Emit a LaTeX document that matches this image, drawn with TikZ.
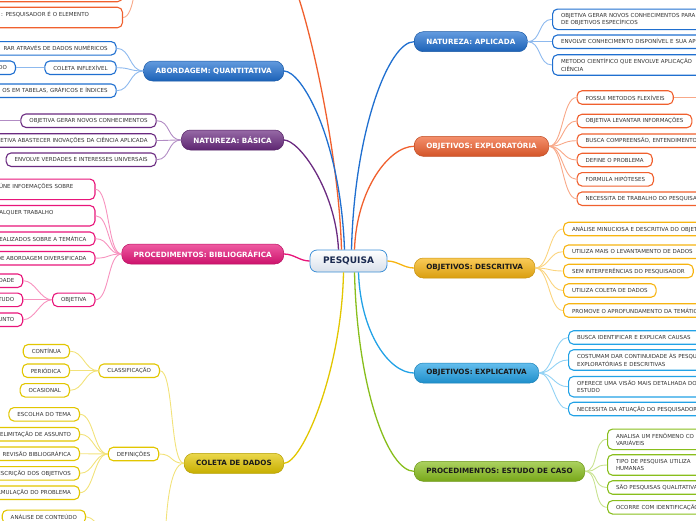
\documentclass[tikz,border=0pt]{standalone}
\usepackage{fontspec}
\setmainfont{DejaVu Sans}

\definecolor{azul}{HTML}{1F6FD0}
\definecolor{azulL}{HTML}{8DB9EE}
\definecolor{roxo}{HTML}{6A2A80}
\definecolor{roxoL}{HTML}{B28CC4}
\definecolor{rosa}{HTML}{E8157A}
\definecolor{rosaL}{HTML}{F792BE}
\definecolor{amarelo}{HTML}{E2C600}
\definecolor{amareloL}{HTML}{F2E27A}
\definecolor{laranja}{HTML}{F0602E}
\definecolor{laranjaL}{HTML}{F8A888}
\definecolor{ouro}{HTML}{F7B411}
\definecolor{ouroL}{HTML}{FBD47E}
\definecolor{ciano}{HTML}{22A2E6}
\definecolor{cianoL}{HTML}{92D2F4}
\definecolor{verde}{HTML}{88BE1C}
\definecolor{verdeL}{HTML}{C8E290}
\definecolor{texto}{HTML}{333333}
\definecolor{escuro}{HTML}{1A1A1A}
\definecolor{pesB}{HTML}{3C8FD6}
\definecolor{pesF}{HTML}{D8E0EA}
\definecolor{pesT}{HTML}{1A2A50}

\tikzset{
  ramo/.style 2 args={rounded corners=9pt, draw=#1!80!black, line width=0.5pt,
    top color=#1!70!white, bottom color=#1!88!black, text=#2,
    font=\bfseries\fontsize{7.2}{8}\selectfont, minimum height=20pt, inner xsep=12pt},
  folha/.style={draw=#1, line width=1.1pt, fill=white, rounded corners=5pt, text=texto,
    font=\fontsize{5.5}{7.3}\selectfont, minimum height=13.5pt, inner xsep=8.5pt, inner ysep=2pt},
  galho/.style={draw=#1, line width=1.3pt},
  fio/.style={draw=#1, line width=0.9pt},
  fits/.style={},
  offr/.style={text width=220pt, align=left},
  offrtwo/.style={offr, minimum height=20.5pt},
  offl/.style={text width=220pt, align=right},
  offltwo/.style={offl, minimum height=20.5pt},
}

\begin{document}
\begin{tikzpicture}[x=1pt, y=-1pt]
\useasboundingbox (0,0) rectangle (696,520);

% centro
\node[draw=pesB, line width=0.8pt, rounded corners=7pt, top color=white, bottom color=pesF,
  text=pesT, font=\bfseries\fontsize{9}{10}\selectfont, minimum height=22pt, inner xsep=13pt]
  (pes) at (348.5,261) {PESQUISA};

% lado direito
\node[ramo={azul}{white}, anchor=west] (apl) at (414,41.7) {NATUREZA: APLICADA};
\node[ramo={laranja}{white}, anchor=west] (exp) at (414,146.3) {OBJETIVOS: EXPLORATÓRIA};
\node[ramo={ouro}{escuro}, anchor=west] (des) at (414,268) {OBJETIVOS: DESCRITIVA};
\node[ramo={ciano}{escuro}, anchor=west] (expl) at (414,373) {OBJETIVOS: EXPLICATIVA};
\node[ramo={verde}{escuro}, anchor=west] (cas) at (414,471.3) {PROCEDIMENTOS: ESTUDO DE CASO};

\draw[galho=azul] ([xshift=3pt]pes.north) .. controls +(3,-120) and +(-25,0) .. (apl.west);
\draw[galho=laranja] ([xshift=6pt]pes.north) .. controls +(2,-60) and +(-25,0) .. (exp.west);
\draw[galho=ouro] (pes.east) .. controls +(10,0) and +(-10,0) .. (des.west);
\draw[galho=ciano] ([xshift=10pt]pes.south) .. controls +(2,60) and +(-25,0) .. (expl.west);
\draw[galho=verde] ([xshift=6pt]pes.south) .. controls +(3,120) and +(-25,0) .. (cas.west);

\foreach \y/\s/\t [count=\i] in {19.3/offrtwo/{OBJETIVA GERAR NOVOS CONHECIMENTOS PARA\\DE OBJETIVOS ESPECÍFICOS},
  41.7/offr/{ENVOLVE CONHECIMENTO DISPONÍVEL E SUA APLICAÇÃO},
  65/offrtwo/{METODO CIENTÍFICO QUE ENVOLVE APLICAÇÃO\\CIÊNCIA}} {
\node[folha=azul, \s, anchor=west] (apl\i) at (552,\y) {\t};
\draw[fio=azulL] (apl.east) .. controls +(14,0) and +(-14,0) .. (apl\i.west);
}

\foreach \y/\s/\t [count=\i] in {97.5/fits/{POSSUI METODOS FLEXÍVEIS},
  121/fits/{OBJETIVA LEVANTAR INFORMAÇÕES},
  140.7/offr/{BUSCA COMPREENSÃO, ENTENDIMENTO},
  160/fits/{DEFINE O PROBLEMA},
  179.3/fits/{FORMULA HIPÓTESES},
  198.7/offr/{NECESSITA DE TRABALHO DO PESQUISADOR}} {
\node[folha=laranja, \s, anchor=west] (exp\i) at (576.5,\y) {\t};
\draw[fio=laranjaL] (exp.east) .. controls +(14,0) and +(-14,0) .. (exp\i.west);
}
\coordinate (possui) at (710,97.5);
\draw[fio=laranjaL] (exp1.east) -- (possui);

\foreach \y/\s/\t [count=\i] in {229/offr/{ANÁLISE MINUCIOSA E DESCRITIVA DO OBJETO},
  251.7/offr/{UTILIZA MAIS O LEVANTAMENTO DE DADOS},
  271/fits/{SEM INTERFERÊNCIAS DO PESQUISADOR},
  290.5/fits/{UTILIZA COLETA DE DADOS},
  310.5/offr/{PROMOVE O APROFUNDAMENTO DA TEMÁTICA}} {
\node[folha=ouro, \s, anchor=west] (des\i) at (563,\y) {\t};
\draw[fio=ouroL] (des.east) .. controls +(14,0) and +(-14,0) .. (des\i.west);
}

\foreach \y/\s/\t [count=\i] in {337.5/offr/{BUSCA IDENTIFICAR E EXPLICAR CAUSAS},
  360/offrtwo/{COSTUMAM DAR CONTINUIDADE ÀS PESQUISAS\\EXPLORATÓRIAS E DESCRITIVAS},
  386.7/offrtwo/{OFERECE UMA VISÃO MAIS DETALHADA DO\\ESTUDO},
  409/offr/{NECESSITA DA ATUAÇÃO DO PESQUISADOR}} {
\node[folha=ciano, \s, anchor=west] (expl\i) at (568,\y) {\t};
\draw[fio=cianoL] (expl.east) .. controls +(14,0) and +(-14,0) .. (expl\i.west);
}

\foreach \y/\s/\t [count=\i] in {439.3/offrtwo/{ANALISA UM FENÔMENO CO\\VARIÁVEIS},
  465/offrtwo/{TIPO DE PESQUISA UTILIZA\\HUMANAS},
  487.5/offr/{SÃO PESQUISAS QUALITATIVAS},
  507.3/offr/{OCORRE COM IDENTIFICAÇÃO}} {
\node[folha=verde, \s, anchor=west] (cas\i) at (607,\y) {\t};
\draw[fio=verdeL] (cas.east) .. controls +(14,0) and +(-14,0) .. (cas\i.west);
}

% lado esquerdo
\node[ramo={azul}{white}, anchor=east] (quant) at (284,71) {ABORDAGEM: QUANTITATIVA};
\node[ramo={roxo}{white}, anchor=east] (bas) at (284,140) {NATUREZA: BÁSICA};
\node[ramo={rosa}{white}, anchor=east] (bib) at (284,254) {PROCEDIMENTOS: BIBLIOGRÁFICA};
\node[ramo={amarelo}{escuro}, anchor=east] (col) at (284,463.3) {COLETA DE DADOS};
\coordinate (qual) at (286,-30);
\coordinate (qualw) at (140,-28);

\draw[galho=laranja] (qual) .. controls +(14,10) and +(-3,-110) .. ([xshift=-7pt]pes.north);
\draw[galho=azul] (quant.east) .. controls +(18,0) and +(-4,-110) .. ([xshift=-4pt]pes.north);
\draw[galho=roxo] (bas.east) .. controls +(15,0) and +(-3,-60) .. ([xshift=-10pt]pes.north);
\draw[galho=rosa] (bib.east) .. controls +(10,0) and +(-10,0) .. (pes.west);
\draw[galho=amarelo] (col.east) .. controls +(18,0) and +(-2,100) .. ([xshift=-5pt]pes.south);

\node[folha=laranja, offl, anchor=east] (qual1) at (123,-5) {};
\node[folha=laranja, offltwo, anchor=east] (qual2) at (123,17.5) {: PESQUISADOR É O ELEMENTO\rule{25pt}{0pt}\\~};
\draw[fio=laranjaL] (qualw) .. controls +(-5,0) and +(12,0) .. (qual1.east);
\draw[fio=laranjaL] (qualw) .. controls +(-5,0) and +(12,0) .. (qual2.east);

\foreach \y/\s/\t [count=\i] in {48.3/offl/{RAR ATRAVÉS DE DADOS NUMÉRICOS},
  67.7/fits/{COLETA INFLEXÍVEL},
  90.7/offl/{OS EM TABELAS, GRÁFICOS E ÍNDICES}} {
\node[folha=azul, \s, anchor=east] (quant\i) at (116.7,\y) {\t};
\draw[fio=azulL] (quant.west) .. controls +(-14,0) and +(14,0) .. (quant\i.east);
}
\node[folha=azul, offl, anchor=east] (quantdo) at (16,67.7) {DO};
\draw[fio=azulL] (quant2.west) -- (quantdo.east);

\foreach \y/\s/\t [count=\i] in {120.7/fits/{OBJETIVA GERAR NOVOS CONHECIMENTOS},
  140.5/offl/{OBJETIVA ABASTECER INOVAÇÕES DA CIÊNCIA APLICADA},
  159.7/fits/{ENVOLVE VERDADES E INTERESSES UNIVERSAIS}} {
\node[folha=roxo, \s, anchor=east] (bas\i) at (156.7,\y) {\t};
\draw[fio=roxoL] (bas.west) .. controls +(-14,0) and +(14,0) .. (bas\i.east);
}
\coordinate (basx) at (-10,120.7);
\draw[fio=roxoL] (bas1.west) -- (basx);

\foreach \y/\s/\t [count=\i] in {189.3/offltwo/{REÚNE INFOEMAÇÕES SOBRE\rule{13pt}{0pt}\\~},
  215.7/offltwo/{QUALQUER TRABALHO\rule{33pt}{0pt}\\~},
  238.7/offl/{REALIZADOS SOBRE A TEMÁTICA},
  258.2/offl/{DE ABORDAGEM DIVERSIFICADA},
  299.8/fits/{OBJETIVA}} {
\node[folha=rosa, \s, anchor=east] (bib\i) at (95.5,\y) {\t};
\draw[fio=rosaL] (bib.west) .. controls +(-14,0) and +(14,0) .. (bib\i.east);
}
\foreach \y/\t [count=\i] in {280.7/DADE, 299.8/TUDO, 319.7/UNTO} {
\node[folha=rosa, offl, anchor=east] (obj\i) at (23.3,\y) {\t};
\draw[fio=rosaL] (bib5.west) .. controls +(-12,0) and +(12,0) .. (obj\i.east);
}

\node[folha=amarelo, anchor=east] (cla) at (160,370.7) {CLASSIFICAÇÃO};
\node[folha=amarelo, anchor=east] (def) at (159.3,454) {DEFINIÇÕES};
\coordinate (colx) at (165,560);
\draw[fio=amareloL] (col.west) .. controls +(-14,0) and +(14,0) .. (cla.east);
\draw[fio=amareloL] (col.west) .. controls +(-14,0) and +(14,0) .. (def.east);
\draw[fio=amareloL] (col.west) .. controls +(-14,0) and +(0,-50) .. (colx);

\foreach \y/\t [count=\i] in {351.2/CONTÍNUA, 370.7/PERIÓDICA, 390.3/OCASIONAL} {
\node[folha=amarelo, anchor=east] (cla\i) at (70,\y) {\t};
\draw[fio=amareloL] (cla.west) .. controls +(-14,0) and +(14,0) .. (cla\i.east);
}
\foreach \y/\s/\t [count=\i] in {414.3/fits/{ESCOLHA DO TEMA},
  434.2/offl/{DELIMITAÇÃO DE ASSUNTO},
  453.7/offl/{REVISÃO BIBLIOGRÁFICA},
  473.3/offl/{DESCRIÇÃO DOS OBJETIVOS},
  492.7/offl/{FORMULAÇÃO DO PROBLEMA}} {
\node[folha=amarelo, \s, anchor=east] (def\i) at (80,\y) {\t};
\draw[fio=amareloL] (def.west) .. controls +(-14,0) and +(14,0) .. (def\i.east);
}

\node[folha=amarelo, anchor=east] (ana) at (86,516.8) {ANÁLISE DE CONTEÚDO};
\coordinate (anax) at (118,545);
\draw[fio=amareloL] (ana.east) .. controls +(12,0) and +(-12,0) .. (anax);

\end{tikzpicture}
\end{document}
